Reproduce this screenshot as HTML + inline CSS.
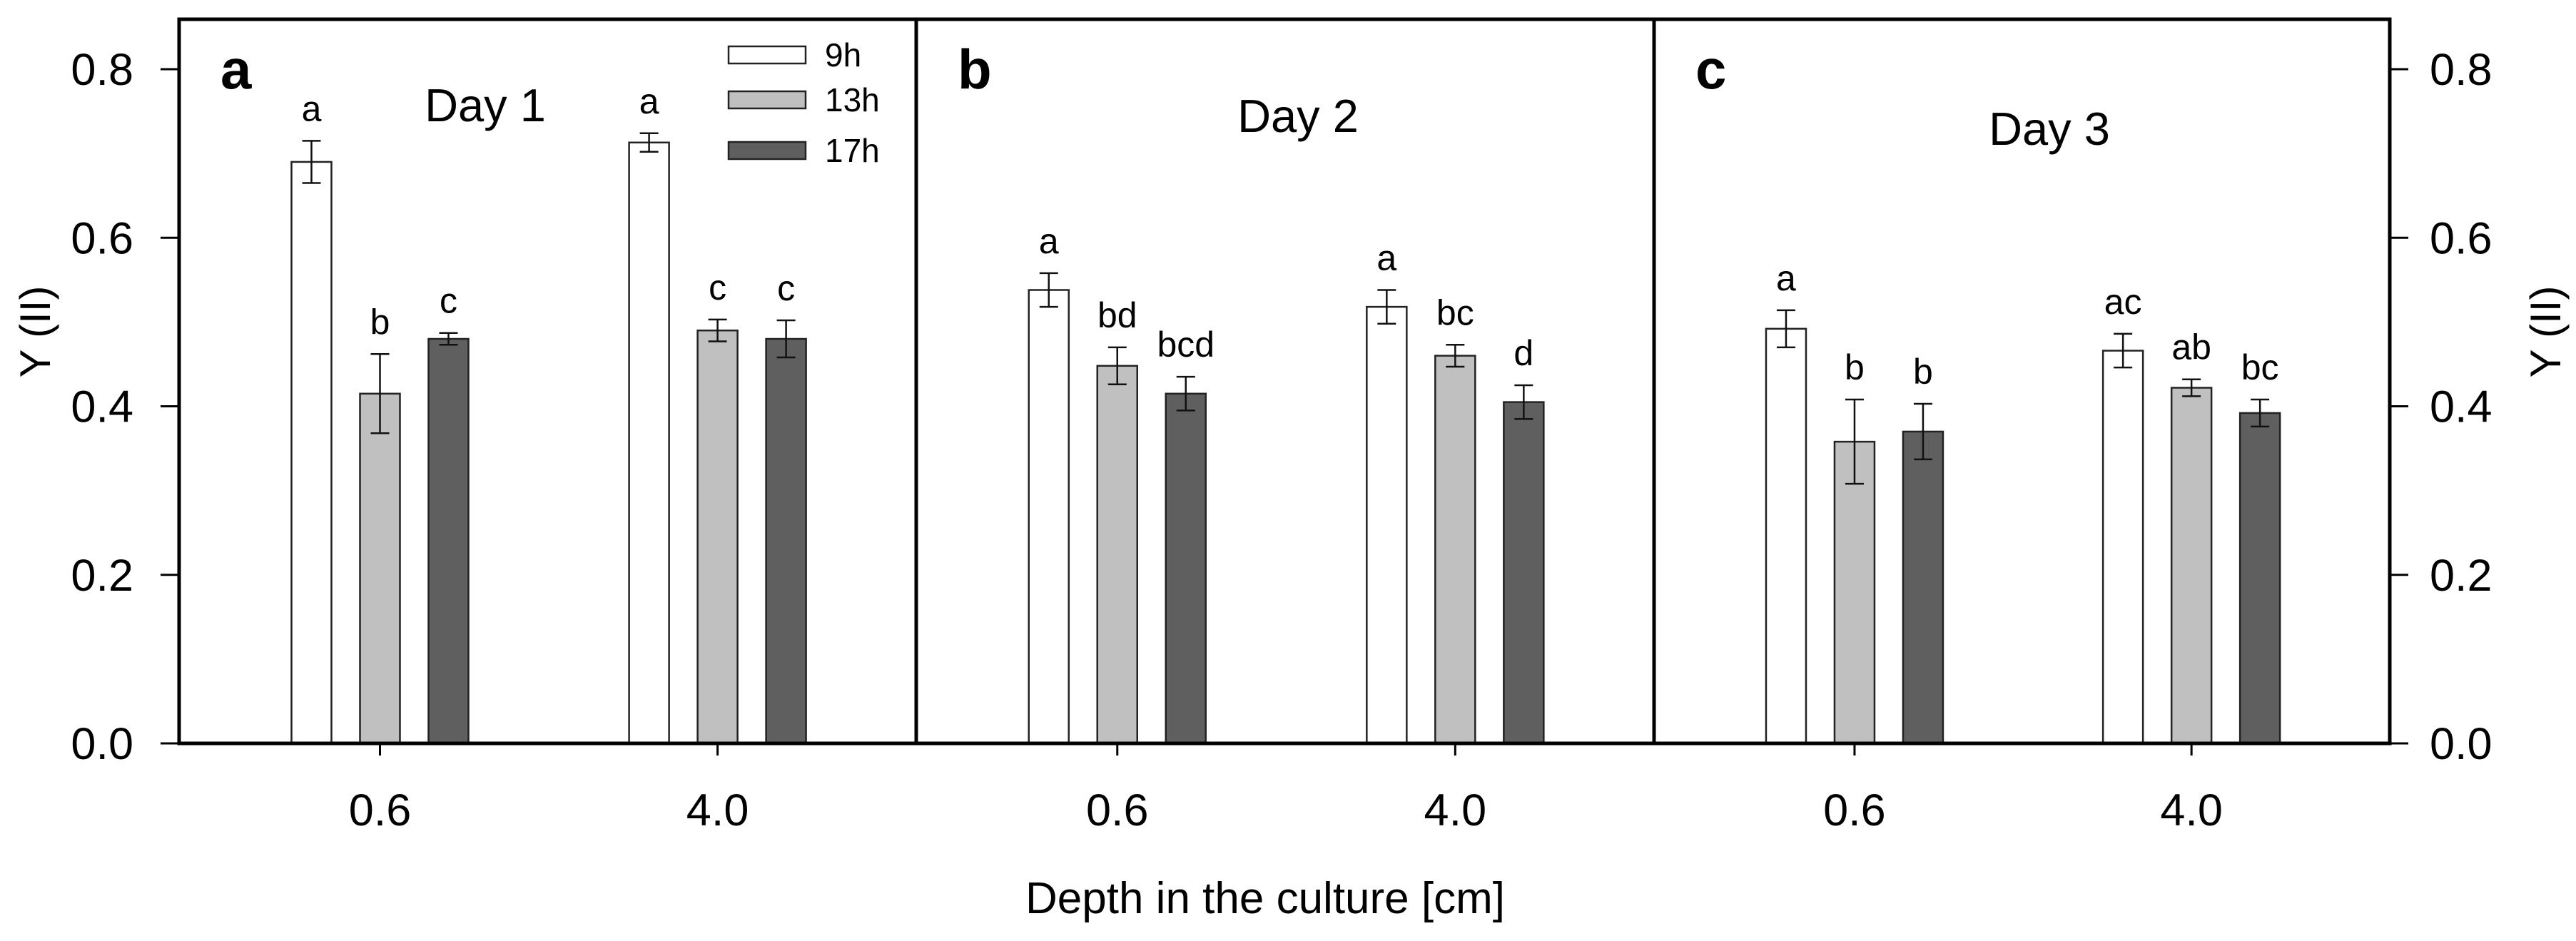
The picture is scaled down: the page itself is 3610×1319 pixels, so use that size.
<!DOCTYPE html>
<html><head><meta charset="utf-8">
<style>
html,body{margin:0;padding:0;background:#fff;}
svg{display:block;font-family:"Liberation Sans",Arial,sans-serif;}
</style></head>
<body>
<svg id="chart" width="3610" height="1319" viewBox="0 0 3610 1319" xmlns="http://www.w3.org/2000/svg"></svg>
<script>
// ---- data ----
const days = ["Day 1", "Day 2", "Day 3"];
const panelLetters = ["a", "b", "c"];
const depths = ["0.6", "4.0"];
const seriesNames = ["9h", "13h", "17h"];
// values[day][depth]
const values9h  = [[0.690, 0.713], [0.538, 0.518], [0.492, 0.466]];
const values13h = [[0.415, 0.490], [0.448, 0.460], [0.358, 0.422]];
const values17h = [[0.480, 0.480], [0.415, 0.405], [0.370, 0.392]];
const err9h  = [[0.025, 0.011], [0.020, 0.020], [0.022, 0.020]];
const err13h = [[0.047, 0.013], [0.022, 0.013], [0.050, 0.010]];
const err17h = [[0.007, 0.022], [0.020, 0.020], [0.033, 0.016]];
const sig9h  = [["a", "a"], ["a", "a"], ["a", "ac"]];
const sig13h = [["b", "c"], ["bd", "bc"], ["b", "ab"]];
const sig17h = [["c", "c"], ["bcd", "d"], ["b", "bc"]];
const yTicks = [0.0, 0.2, 0.4, 0.6, 0.8];
const yTickLabels = ["0.0", "0.2", "0.4", "0.6", "0.8"];

// ---- layout ----
const NS = "http://www.w3.org/2000/svg";
const svg = document.getElementById("chart");
const panelX = [251, 1284, 2318, 3349];
const yTop = 27, yBase = 1042, y08 = 97;
const fills = ["#ffffff", "#c0c0c0", "#5f5f5f"];
const allVals = [values9h, values13h, values17h];
const allErr = [err9h, err13h, err17h];
const allSig = [sig9h, sig13h, sig17h];
function yScale(v){ return yBase - v * (yBase - y08) / 0.8; }
function xDepth(p, d){ const w = panelX[p+1]-panelX[p]; return panelX[p] + w * (d === 0 ? 0.2725 : 0.7305); }
function el(tag, attrs, text){
  const e = document.createElementNS(NS, tag);
  for (const k in attrs) e.setAttribute(k, attrs[k]);
  if (text !== undefined) e.textContent = text;
  svg.appendChild(e);
  return e;
}
const barW = 56, barStep = 96;

for (let p = 0; p < 3; p++) {
  for (let d = 0; d < 2; d++) {
    const cx = xDepth(p, d);
    for (let s = 0; s < 3; s++) {
      const v = allVals[s][p][d], e = allErr[s][p][d];
      const bx = cx + (s - 1) * barStep - barW / 2;
      const by = yScale(v);
      const bar = el("rect", {x: bx, y: by, width: barW, height: yBase - by, fill: fills[s], stroke: "#222", "stroke-width": 2.5});
      
      
      const mx = bx + barW / 2;
      const yt = yScale(v + e), yb = yScale(v - e);
      const eb = el("path", {d: `M${mx},${yt}V${yb}M${mx-13},${yt}H${mx+13}M${mx-13},${yb}H${mx+13}`, stroke: "#111", "stroke-width": 2.5, fill: "none"});
      
      
      const t = el("text", {x: mx, y: yt - 28, "font-size": 50, "text-anchor": "middle", fill: "#000"}, allSig[s][p][d]);
      
      
    }
    const tk = el("line", {x1: cx, x2: cx, y1: yBase, y2: yBase + 17, stroke: "#000", "stroke-width": 3});
    
    
    const tl = el("text", {x: cx, y: 1157, "font-size": 63, "text-anchor": "middle"}, depths[d]);
    
    
  }
  const fr = el("rect", {x: panelX[p], y: yTop, width: panelX[p+1]-panelX[p], height: yBase - yTop, fill: "none", stroke: "#000", "stroke-width": 5});
  
  
  const pl = el("text", {x: panelX[p] + 58, y: 124, "font-size": 78, "font-weight": "bold"}, panelLetters[p]);
  
  
  const dayX = [680, 1819, 2872][p];
  const dayY = [170, 185, 203][p];
  const dt = el("text", {x: dayX, y: dayY, "font-size": 65, "text-anchor": "middle"}, days[p]);
  
  
}

// y axes
for (let i = 0; i < yTicks.length; i++) {
  const y = yScale(yTicks[i]);
  const a = el("line", {x1: 225, x2: 251, y1: y, y2: y, stroke: "#000", "stroke-width": 3});
  
  
  const b = el("line", {x1: 3349, x2: 3375, y1: y, y2: y, stroke: "#000", "stroke-width": 3});
  
  
  const tl = el("text", {x: 187, y: y + 22, "font-size": 63, "text-anchor": "end"}, yTickLabels[i]);
  
  
  const tr = el("text", {x: 3405, y: y + 22, "font-size": 63}, yTickLabels[i]);
  
  
}
const yl = el("text", {x: 0, y: 0, "font-size": 60, "text-anchor": "middle", transform: "translate(70,465) rotate(-90)"}, "Y (II)");


const yr = el("text", {x: 0, y: 0, "font-size": 60, "text-anchor": "middle", transform: "translate(3588,465) rotate(-90)"}, "Y (II)");


const xt = el("text", {x: 1773, y: 1280, "font-size": 62, "text-anchor": "middle"}, "Depth in the culture [cm]");



// legend
const legY = [65, 128, 199];
for (let s = 0; s < 3; s++) {
  const r = el("rect", {x: 1021, y: legY[s], width: 108, height: 24, fill: fills[s], stroke: "#222", "stroke-width": 2.5});
  
  
  const t = el("text", {x: 1156, y: legY[s] + 28, "font-size": 46}, seriesNames[s]);
  
  
}
</script>
</body></html>
